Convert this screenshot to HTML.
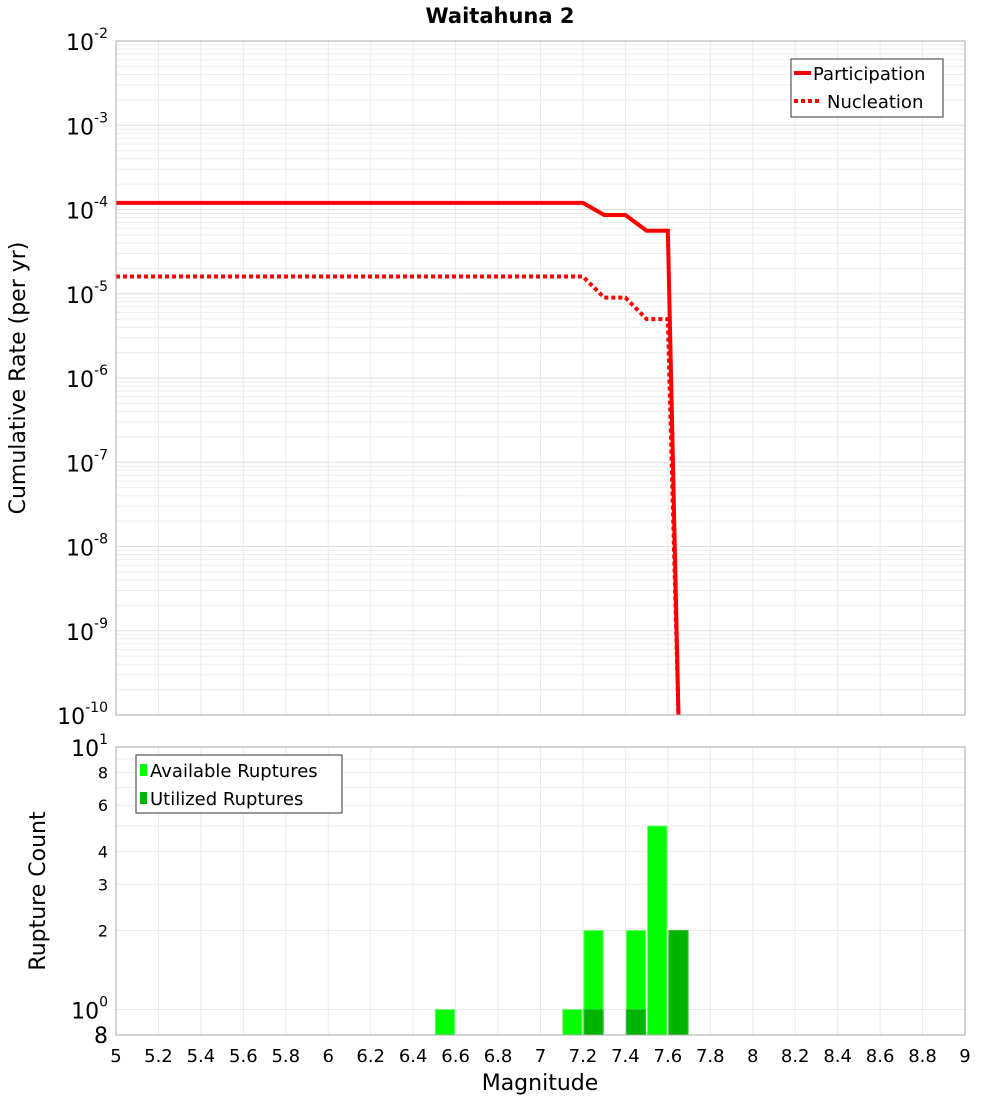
<!DOCTYPE html>
<html><head><meta charset="utf-8"><style>
body{margin:0;background:#fff;font-family:"Liberation Sans","DejaVu Sans",sans-serif;}
svg text{font-family:"DejaVu Sans","Liberation Sans",sans-serif;}
</style></head><body>
<svg id="c" width="1000" height="1100" xmlns="http://www.w3.org/2000/svg">
<rect width="1000" height="1100" fill="#fff"/>
<text x="500" y="23" text-anchor="middle" font-size="21" font-weight="bold">Waitahuna 2</text>
<g id="topg"></g><g id="botg"></g>
</svg>
<script>
const mags=[5.0,5.1,5.2,5.3,5.4,5.5,5.6,5.7,5.8,5.9,6.0,6.1,6.2,6.3,6.4,6.5,6.6,6.7,6.8,6.9,7.0,7.1,7.2,7.3,7.4,7.5,7.6,7.65];
const partRates=[1.2e-4,1.2e-4,1.2e-4,1.2e-4,1.2e-4,1.2e-4,1.2e-4,1.2e-4,1.2e-4,1.2e-4,1.2e-4,1.2e-4,1.2e-4,1.2e-4,1.2e-4,1.2e-4,1.2e-4,1.2e-4,1.2e-4,1.2e-4,1.2e-4,1.2e-4,1.2e-4,8.6e-5,8.6e-5,5.6e-5,5.6e-5,1e-10];
const nuclRates=[1.6e-5,1.6e-5,1.6e-5,1.6e-5,1.6e-5,1.6e-5,1.6e-5,1.6e-5,1.6e-5,1.6e-5,1.6e-5,1.6e-5,1.6e-5,1.6e-5,1.6e-5,1.6e-5,1.6e-5,1.6e-5,1.6e-5,1.6e-5,1.6e-5,1.6e-5,1.6e-5,9e-6,9e-6,5e-6,5e-6,1e-10];
const binStarts=[6.5,7.1,7.2,7.4,7.5,7.6];
const availCounts=[1,1,2,2,5,2];
const usedCounts=[0,0,1,1,0,2];
const xTicks=[5,5.2,5.4,5.6,5.8,6,6.2,6.4,6.6,6.8,7,7.2,7.4,7.6,7.8,8,8.2,8.4,8.6,8.8,9];
const NS="http://www.w3.org/2000/svg";
function mk(p,t,a,txt){const e=document.createElementNS(NS,t);for(const k in a)e.setAttribute(k,a[k]);if(txt!==undefined)e.textContent=txt;p.appendChild(e);return e;}
const X0=116,X1=965;
const x=m=>X0+(m-5)/4*(X1-X0);
const T0=41,T1=715;
const yT=v=>T0+(-2-Math.log10(v))/8*(T1-T0);
const B0=747,B1=1035;
const lb0=Math.log10(0.8);
const yB=v=>B1-(Math.log10(v)-lb0)/(1-lb0)*(B1-B0);
const topG=document.getElementById('topg'),botG=document.getElementById('botg');
let e;
for(let d=-10;d<-2;d++)for(let k=1;k<10;k++){const y=yT(k*Math.pow(10,d));mk(topG,'line',{x1:X0,x2:X1,y1:y,y2:y,stroke:k==1?'#e0e0e0':'#ededed','stroke-width':1});}
xTicks.forEach(t=>{mk(topG,'line',{x1:x(t),x2:x(t),y1:T0,y2:T1,stroke:'#ebebeb'});mk(botG,'line',{x1:x(t),x2:x(t),y1:B0,y2:B1,stroke:'#ebebeb'});});
[1,2,3,4,5,6,7,8,9,10].forEach(v=>{const y=yB(v);mk(botG,'line',{x1:X0,x2:X1,y1:y,y2:y,stroke:'#ebebeb'});});
for(let d=-10;d<=-2;d++){const y=yT(Math.pow(10,d));const t=mk(topG,'text',{x:108,y:y+9,'text-anchor':'end','font-size':22});
 
 
 mk(t,'tspan',{},'10');mk(t,'tspan',{dy:-12,'font-size':14},String(d));}
e=mk(topG,'text',{x:25,y:378,'text-anchor':'middle','font-size':22,transform:'rotate(-90 25 378)'},'Cumulative Rate (per yr)');


const defs=mk(topG,'defs',{});const cp=mk(defs,'clipPath',{id:'cpT'});mk(cp,'rect',{x:X0,y:T0,width:X1-X0,height:T1-T0});
const ptsP=mags.map((m,i)=>x(m)+','+yT(partRates[i])).join(' ');
const ptsN=mags.map((m,i)=>x(m)+','+yT(nuclRates[i])).join(' ');
e=mk(topG,'polyline',{points:ptsN,fill:'none',stroke:'#f00','stroke-width':4,'stroke-dasharray':'4,3','clip-path':'url(#cpT)'});


e=mk(topG,'polyline',{points:ptsP,fill:'none',stroke:'#f00','stroke-width':4,'clip-path':'url(#cpT)'});


e=mk(topG,'rect',{x:X0,y:T0,width:X1-X0,height:T1-T0,fill:'none',stroke:'#aaa'});


const lg=mk(topG,'g',{});


mk(lg,'rect',{x:791,y:59,width:152,height:58,fill:'#fff',stroke:'#333'});
mk(lg,'line',{x1:794,x2:811,y1:73,y2:73,stroke:'#f00','stroke-width':4});
mk(lg,'text',{x:813,y:80,'font-size':18},'Participation');
mk(lg,'line',{x1:794,x2:821,y1:101,y2:101,stroke:'#f00','stroke-width':4,'stroke-dasharray':'4,3'});
mk(lg,'text',{x:827,y:108,'font-size':18},'Nucleation');
const bw=x(5.1)-x(5);
binStarts.forEach((m,i)=>{
 const r=mk(botG,'rect',{x:x(m)+1,y:yB(availCounts[i]),width:bw-2,height:B1-yB(availCounts[i]),fill:'#00ff00',stroke:'#66ff66','stroke-width':1});
 
 
 if(usedCounts[i]>0){const u=mk(botG,'rect',{x:x(m)+1,y:yB(usedCounts[i]),width:bw-2,height:B1-yB(usedCounts[i]),fill:'#00b400',stroke:'#33c033','stroke-width':1});
 
 }
});
e=mk(botG,'rect',{x:X0,y:B0,width:X1-X0,height:B1-B0,fill:'none',stroke:'#aaa'});


[[2,'2'],[3,'3'],[4,'4'],[6,'6'],[8,'8']].forEach(([v,s])=>{const t=mk(botG,'text',{x:108,y:yB(v)+6,'text-anchor':'end','font-size':16},s);
 
 });
[[1,'0'],[10,'1']].forEach(([v,ex])=>{const t=mk(botG,'text',{x:108,y:yB(v)+9,'text-anchor':'end','font-size':22});
 
 
 mk(t,'tspan',{},'10');mk(t,'tspan',{dy:-12,'font-size':14},ex);});
e=mk(botG,'text',{x:108,y:1043,'text-anchor':'end','font-size':22},'8');


e=mk(botG,'text',{x:45,y:891,'text-anchor':'middle','font-size':22,transform:'rotate(-90 45 891)'},'Rupture Count');


xTicks.forEach(t=>{const q=mk(botG,'text',{x:x(t),y:1062,'text-anchor':'middle','font-size':18},String(t));
 
 });
e=mk(botG,'text',{x:540,y:1090,'text-anchor':'middle','font-size':22},'Magnitude');


const lb=mk(botG,'g',{});


mk(lb,'rect',{x:136,y:755,width:206,height:58,fill:'#fff',stroke:'#333'});
mk(lb,'rect',{x:140,y:764,width:7,height:12,fill:'#00ff00'});
mk(lb,'text',{x:150,y:777,'font-size':18},'Available Ruptures');
mk(lb,'rect',{x:140,y:792,width:7,height:12,fill:'#00b400'});
mk(lb,'text',{x:150,y:805,'font-size':18},'Utilized Ruptures');
</script>
</body></html>
